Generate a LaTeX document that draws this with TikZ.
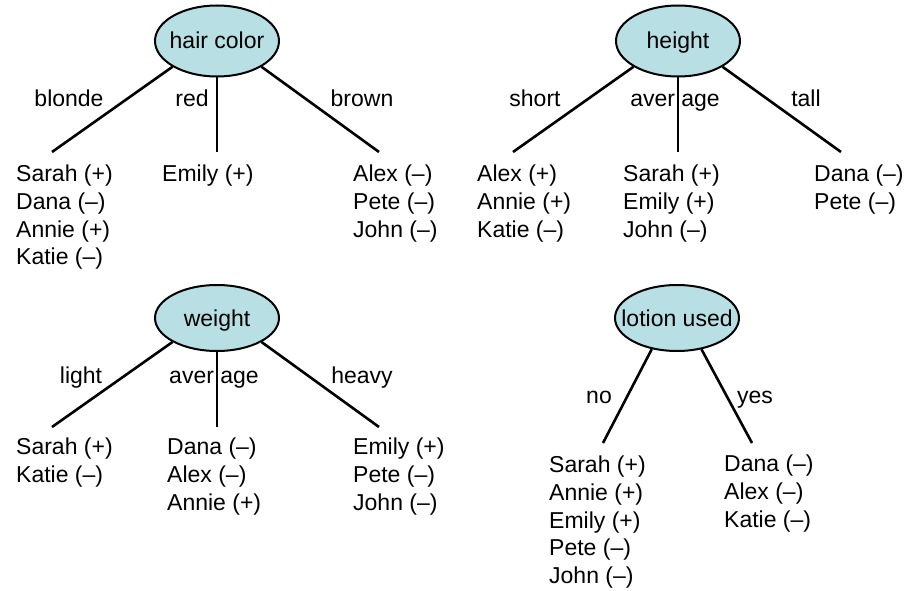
\documentclass[tikz,border=0pt]{standalone}
\usepackage{fontspec}
\setmainfont{Liberation Sans}
\usetikzlibrary{shapes.geometric}
\definecolor{attrfill}{RGB}{184,223,227}
\tikzset{
  attr/.style={ellipse, draw, fill=attrfill, line width=2pt, minimum width=124pt, minimum height=71pt, inner sep=0pt, text height=16pt, text depth=0pt},
  branch/.style={line width=2.6pt},
  val/.style={anchor=base, inner sep=0pt},
  leaf/.style={anchor=north west, align=left, inner sep=0pt}
}
\begin{document}
\begin{tikzpicture}[x=1pt, y=-1pt, font=\fontsize{23}{27.7}\selectfont]
    \useasboundingbox (0, 0) rectangle (908, 591);

    % hair color
    \node [attr] (hair) at (217, 41) {\makebox[0pt]{hair color}};
    \coordinate (hairL) at (52, 152);
    \coordinate (hairM) at (217, 152);
    \coordinate (hairR) at (379, 152);
    \draw [branch] (hair.south west) -- (hairL);
    \draw [branch] (hair.south) -- (hairM);
    \draw [branch] (hair.south east) -- (hairR);
    \node [val] (blonde) at (69, 107) {blonde};
    \node [val] (red) at (192, 107) {red};
    \node [val] (brown) at (362, 107) {brown};
    \node [leaf] (hairA) at (16, 165) {Sarah (+)\\Dana (–)\\Annie (+)\\Katie (–)};
    \node [leaf] (hairB) at (162, 165) {Emily (+)};
    \node [leaf] (hairC) at (353, 165) {Alex (–)\\Pete (–)\\John (–)};

    % height
    \node [attr] (height) at (678, 41) {\makebox[0pt]{height}};
    \coordinate (heightL) at (513, 152);
    \coordinate (heightM) at (678, 152);
    \coordinate (heightR) at (841, 152);
    \draw [branch] (height.south west) -- (heightL);
    \draw [branch] (height.south) -- (heightM);
    \draw [branch] (height.south east) -- (heightR);
    \node [val] (short) at (535, 107) {short};
    \node [val] (avgH) at (675, 107) {aver age};
    \node [val] (tall) at (806, 107) {tall};
    \node [leaf] (heightA) at (477, 165) {Alex (+)\\Annie (+)\\Katie (–)};
    \node [leaf] (heightB) at (623, 165) {Sarah (+)\\Emily (+)\\John (–)};
    \node [leaf] (heightC) at (814, 165) {Dana (–)\\Pete (–)};

    % weight
    \node [attr, minimum height=66pt] (weight) at (217, 318) {\makebox[0pt]{weight}};
    \coordinate (weightL) at (52, 427);
    \coordinate (weightM) at (217, 427);
    \coordinate (weightR) at (379, 427);
    \draw [branch] (weight.south west) -- (weightL);
    \draw [branch] (weight.south) -- (weightM);
    \draw [branch] (weight.south east) -- (weightR);
    \node [val] (light) at (81, 383) {light};
    \node [val] (avgW) at (214, 383) {aver age};
    \node [val] (heavy) at (362, 383) {heavy};
    \node [leaf] (weightA) at (16, 438) {Sarah (+)\\Katie (–)};
    \node [leaf] (weightB) at (167, 438) {Dana (–)\\Alex (–)\\Annie (+)};
    \node [leaf] (weightC) at (353, 438) {Emily (+)\\Pete (–)\\John (–)};

    % lotion used
    \node [attr, minimum height=66pt] (lotion) at (677, 318) {\makebox[0pt]{lotion used}};
    \coordinate (lotionL) at (603, 443);
    \coordinate (lotionR) at (752, 443);
    \draw [branch] (lotion.231) -- (lotionL);
    \draw [branch] (lotion.308) -- (lotionR);
    \node [val] (no) at (599, 403) {no};
    \node [val] (yes) at (755, 403) {yes};
    \node [leaf] (lotionA) at (549, 456) {Sarah (+)\\Annie (+)\\Emily (+)\\Pete (–)\\John (–)};
    \node [leaf] (lotionB) at (724, 455) {Dana (–)\\Alex (–)\\Katie (–)};
\end{tikzpicture}
\end{document}
